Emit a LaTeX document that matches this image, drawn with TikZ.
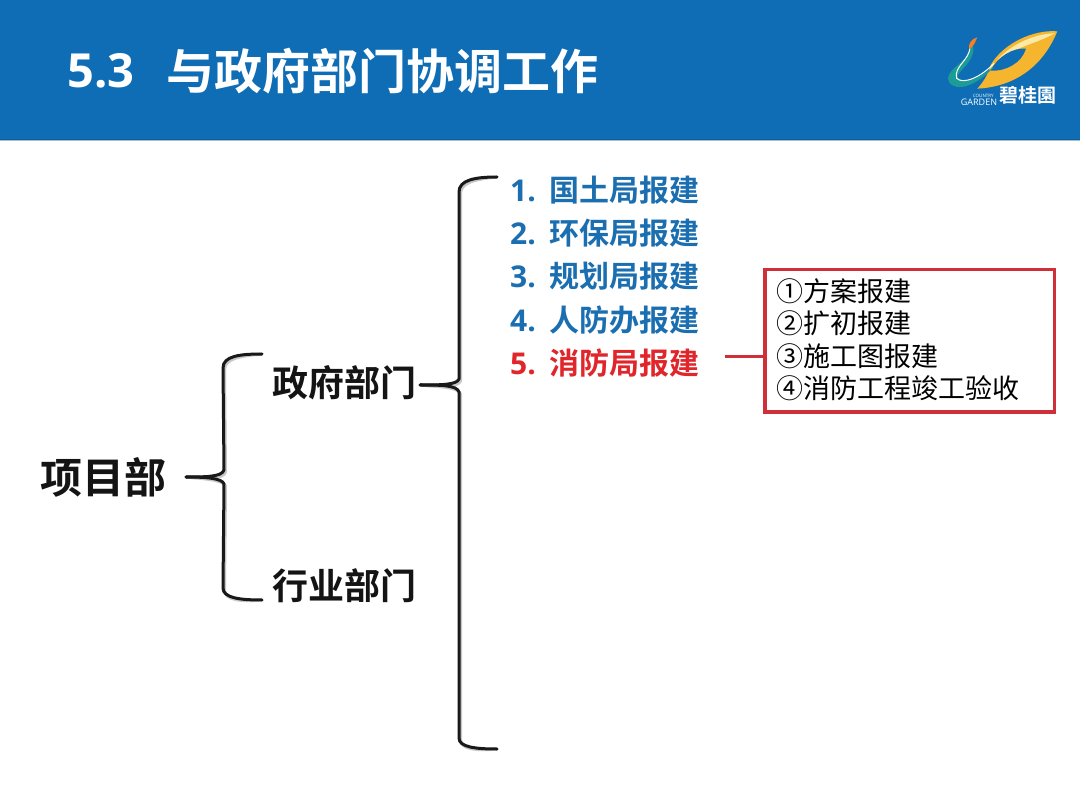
\documentclass[tikz,border=0pt]{standalone}
\usepackage{fontspec}
\setmainfont{Open Sans}
\newfontfamily\cjkb{Noto Sans CJK SC Bold}
\newfontfamily\cjkr{Noto Sans CJK SC}
\newfontfamily\latb{Open Sans}[BoldFont={Open Sans Bold}]
\definecolor{hdr}{HTML}{0F6DB5}
\definecolor{lstblue}{HTML}{1B6FB0}
\definecolor{lstred}{HTML}{E0252B}
\definecolor{boxred}{HTML}{CF2F38}
\definecolor{gold}{HTML}{F5B52E}
\definecolor{paleg}{HTML}{FBE9A8}
\definecolor{teal2}{HTML}{1C9C96}
\tikzset{
  ttl/.style={inner sep=0pt,text=white,font=\fontsize{48}{56}\selectfont\cjkb},
  rootlbl/.style={inner sep=0pt,font=\fontsize{42}{48}\selectfont\cjkb,text=black!92},
  dept/.style={inner sep=0pt,font=\fontsize{36}{42}\selectfont\cjkb,text=black!92},
  item/.style={inner sep=0pt,anchor=west,font=\fontsize{30}{36}\selectfont\cjkb,text=lstblue},
  brace/.style={line width=3pt,black!90,line cap=round,line join=round},
  braceshadow/.style={line width=3pt,black!22,line cap=round,line join=round,shift={(1.5pt,-2pt)}},
}
\newcommand{\itemtext}[2]{\makebox[39pt][l]{\latb\bfseries #1}#2}
\begin{document}
\begin{tikzpicture}[x=1pt,y=-1pt]
\useasboundingbox (0,0) rectangle (1080,810);
\fill[white] (0,0) rectangle (1080,810);
\fill[hdr] (0,0) rectangle (1080,140);
\fill[hdr!60!black,opacity=.35] (0,139) rectangle (1080,141);

\node[inner sep=0pt,anchor=west,text=white,font=\fontsize{47}{54}\selectfont\latb\bfseries] (num) at (67,71) {5.3};
\node[ttl,anchor=west] (title) at (166,71) {与政府部门协调工作};

% logo: coordinates are those of a 3x crop whose corner is at (920,10)
\begin{scope}[shift={(920,10)},x=0.3333pt,y=-0.3333pt]
 \fill[gold] (412,64) .. controls (340,58) and (250,100) .. (212,165)
    .. controls (205,190) and (195,210) .. (172,236)
    .. controls (260,232) and (360,190) .. (412,64) -- cycle;
 \fill[paleg] (405,70) .. controls (345,70) and (270,105) .. (232,150)
    .. controls (285,112) and (350,100) .. (405,70) -- cycle;
 \fill[hdr] (318,116) .. controls (280,112) and (232,140) .. (212,182)
    .. controls (255,185) and (305,160) .. (318,116) -- cycle;
 \fill[teal2] (150,105) .. controls (160,150) and (85,170) .. (84,205)
    .. controls (86,240) and (150,250) .. (222,170)
    .. controls (190,195) and (140,225) .. (115,205)
    .. controls (100,190) and (165,160) .. (160,112) -- cycle;
 \draw[white,line width=1pt] (150,110) .. controls (150,150) and (100,170) .. (110,205)
    .. controls (130,225) and (185,200) .. (222,160);
 \fill[gold!70!red] (148,118) .. controls (142,105) and (155,85) .. (172,82)
    .. controls (165,95) and (165,105) .. (148,118) -- cycle;
 \node[inner sep=0pt,text=white,font=\fontsize{19}{20}\selectfont\cjkb] (logocn) at (324,256) {碧桂園};
 \node[inner sep=0pt,text=white,font=\fontsize{9}{10}\selectfont\rmfamily] (logoen) at (177,277) {GARDEN};
 \node[inner sep=0pt,text=white,font=\fontsize{4.5}{5}\selectfont\rmfamily] (logoen2) at (190,258) {COUNTRY};
\end{scope}

% nodes
\node[rootlbl,anchor=west] (root) at (40,477) {项目部};
\node[dept,anchor=west] (gov) at (272,383) {政府部门};
\node[dept,anchor=west] (ind) at (272,586) {行业部门};

\node[item] (i1) at (510,190) {\itemtext{1.}{国土局报建}};
\node[item] (i2) at (510,233) {\itemtext{2.}{环保局报建}};
\node[item] (i3) at (510,276) {\itemtext{3.}{规划局报建}};
\node[item] (i4) at (510,320) {\itemtext{4.}{人防办报建}};
\node[item,text=lstred] (i5) at (510,363) {\itemtext{5.}{消防局报建}};

\node[draw=boxred,line width=3.5pt,fill=white,anchor=north west,minimum width=289.5pt,minimum height=142.5pt,inner sep=0pt] (box) at (763,268) {};
\foreach \n/\t/\y in {a/①方案报建/291,b/②扩初报建/323.5,c/③施工图报建/356,d/④消防工程竣工验收/388}
  \node[inner sep=0pt,anchor=west,font=\fontsize{27}{32}\selectfont\cjkr,text=black] (box\n) at (776,\y) {\t};

% connector coordinates
\coordinate (r1) at (186,477);
\coordinate (r2) at (420,385);
\coordinate (gt) at (262,354);
\coordinate (gb) at (262,600);
\coordinate (lt) at (497,177);
\coordinate (lb) at (497,749);

\foreach \st in {braceshadow,brace}{
\draw[\st] (r1) .. controls (205,477) and (222,477) .. (224,470) -- (223,368)
   .. controls (223,356) and (240,354) .. (gt);
\draw[\st] (r1) .. controls (205,477) and (222,478) .. (224,484) -- (223,588)
   .. controls (223,598) and (240,600) .. (gb);
\draw[\st] (r2) .. controls (440,385) and (457,385) .. (459,379) -- (459,192)
   .. controls (459,180) and (475,177) .. (lt);
\draw[\st] (r2) .. controls (440,385) and (457,385) .. (459,392) -- (459,738)
   .. controls (459,747) and (475,749) .. (lb);
}
\coordinate (redstart) at (725,357);
\draw[boxred,line width=3pt] (redstart) -- (redstart -| box.west);
\end{tikzpicture}
\end{document}
